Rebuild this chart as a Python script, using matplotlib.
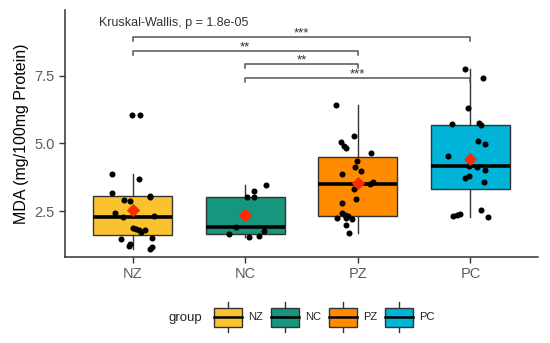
import matplotlib
matplotlib.use("Agg")
import matplotlib.pyplot as plt
from matplotlib.patches import Rectangle
import numpy as np

plt.rcParams['font.family'] = ['Liberation Sans', 'DejaVu Sans']

groups = ["NZ", "NC", "PZ", "PC"]
colors = ["#F9C22E", "#16967D", "#FF8C00", "#00B4D8"]

nz_vals = [6.04, 6.04, 3.88, 3.69, 3.16, 3.07, 3.01, 2.91, 2.88, 2.44, 2.29, 2.31,
           1.89, 1.85, 1.79, 1.71, 1.79, 1.48, 1.52, 1.29, 1.21, 1.17, 1.11]
nz_jit = [-0.006, 0.062, -0.186, 0.053, -0.186, 0.151, 0.151, -0.074, -0.020, -0.160,
          -0.086, 0.189, 0.003, 0.033, 0.056, 0.077, 0.113, -0.100, 0.171, -0.020,
          -0.035, 0.171, 0.151]
nc_vals = [3.47, 3.25, 3.03, 3.03, 1.91, 1.64, 1.54, 1.57, 1.76]
nc_jit = [0.188, 0.078, 0.019, 0.078, -0.084, -0.143, 0.034, 0.120, 0.164]
pz_vals = [6.43, 5.27, 5.06, 4.90, 4.82, 4.63, 4.34, 4.14, 3.99, 3.87, 3.50, 3.56,
           3.32, 2.95, 2.80, 2.44, 2.35, 2.25, 2.25, 2.32, 2.20, 2.00, 1.67]
pz_jit = [-0.191, -0.035, -0.153, -0.124, -0.109, 0.119, -0.005, -0.023, 0.024, -0.138,
          0.104, 0.139, -0.035, -0.014, -0.142, -0.142, -0.118, -0.182, -0.109, -0.089,
          -0.053, -0.109, -0.074]
pc_vals = [7.76, 7.43, 6.31, 5.71, 5.75, 5.68, 5.11, 4.99, 4.55, 4.18, 4.13, 4.03,
           3.81, 3.72, 3.56, 2.32, 2.35, 2.38, 2.54, 2.29]
pc_jit = [-0.049, 0.116, -0.019, -0.164, 0.078, 0.098, 0.063, 0.128, -0.197, -0.017,
          0.054, 0.128, -0.011, -0.049, 0.122, -0.152, -0.123, -0.093, 0.098, 0.157]

all_vals = [nz_vals, nc_vals, pz_vals, pc_vals]
all_jit = [nz_jit, nc_jit, pz_jit, pc_jit]

# comparisons: (group i, group j, bracket height, label)
comparisons = [(0, 3, 8.95, "***"), (0, 2, 8.43, "**"), (1, 2, 7.95, "**"), (1, 3, 7.43, "***")]
test_text = "Kruskal-Wallis, p = 1.8e-05"

W, H = 550, 343
fig = plt.figure(figsize=(W / 100, H / 100), dpi=100)
ax = fig.add_axes([65 / W, 1 - 257 / H, (538 - 65) / W, (257 - 10) / H])

pos = np.arange(len(groups))
bp = ax.boxplot(all_vals, positions=pos, widths=0.7, patch_artist=True, showfliers=False,
                whis=1.5, manage_ticks=False)
for patch, c in zip(bp['boxes'], colors):
    patch.set_facecolor(c)
    patch.set_edgecolor('#333333')
    patch.set_linewidth(1.0)
for m in bp['medians']:
    m.set_color('black')
    m.set_linewidth(2.6)
for w in bp['whiskers']:
    w.set_color('#333333')
    w.set_linewidth(1.0)
for c in bp['caps']:
    c.set_visible(False)

for i, (vals, jit) in enumerate(zip(all_vals, all_jit)):
    ax.scatter(i + np.array(jit), vals, s=19, color='black', zorder=4, linewidths=0)
    ax.scatter([i], [np.mean(vals)], marker='D', s=46, color='#FF2A00', zorder=5, linewidths=0)

tip = 0.17
for i, j, h, lab in comparisons:
    ax.plot([i, i, j, j], [h - tip, h, h, h - tip], color='#555555', lw=1.1, zorder=3)
    ax.text((i + j) / 2, h + 0.03, lab, ha='center', va='baseline', fontsize=9.5, color='#333333')

ax.text(-0.30, 9.46, test_text, ha='left', va='center', fontsize=9, color='#333333')

ax.set_xlim(-0.6, 3.6)
ax.set_ylim(0.80, 9.94)
ax.set_xticks(pos)
ax.set_xticklabels(groups)
ax.set_yticks([2.5, 5.0, 7.5])
ax.set_yticklabels(["2.5", "5.0", "7.5"])
ax.tick_params(axis='both', colors='#333333', labelcolor='#5A5A5A', labelsize=10.5,
               length=4, width=1.0)
for s in ['top', 'right']:
    ax.spines[s].set_visible(False)
for s in ['left', 'bottom']:
    ax.spines[s].set_color('#333333')
    ax.spines[s].set_linewidth(1.1)
ax.set_ylabel("MDA (mg/100mg Protein)", fontsize=11.5, color='black', labelpad=4)

# legend drawn manually in pixel coordinates
lax = fig.add_axes([0, 0, 1, 1], zorder=-1)
lax.set_xlim(0, W)
lax.set_ylim(H, 0)
lax.axis('off')
lax.text(185, 318, "group", ha='center', va='center', fontsize=9.5, color='#222222')
key_x = [214, 271, 329, 385]
for kx, c, g in zip(key_x, colors, groups):
    cx = kx + 14
    lax.plot([cx, cx], [301.5, 332], color='#333333', lw=1.0)
    lax.add_patch(Rectangle((kx, 307.7), 28, 19, facecolor=c, edgecolor='#333333', lw=1.0, zorder=2))
    lax.plot([kx, kx + 28], [317.2, 317.2], color='black', lw=1.8, zorder=3)
    lax.text(kx + 34, 317.5, g, ha='left', va='center', fontsize=8, color='#222222')

fig.savefig("out.png", dpi=100)
